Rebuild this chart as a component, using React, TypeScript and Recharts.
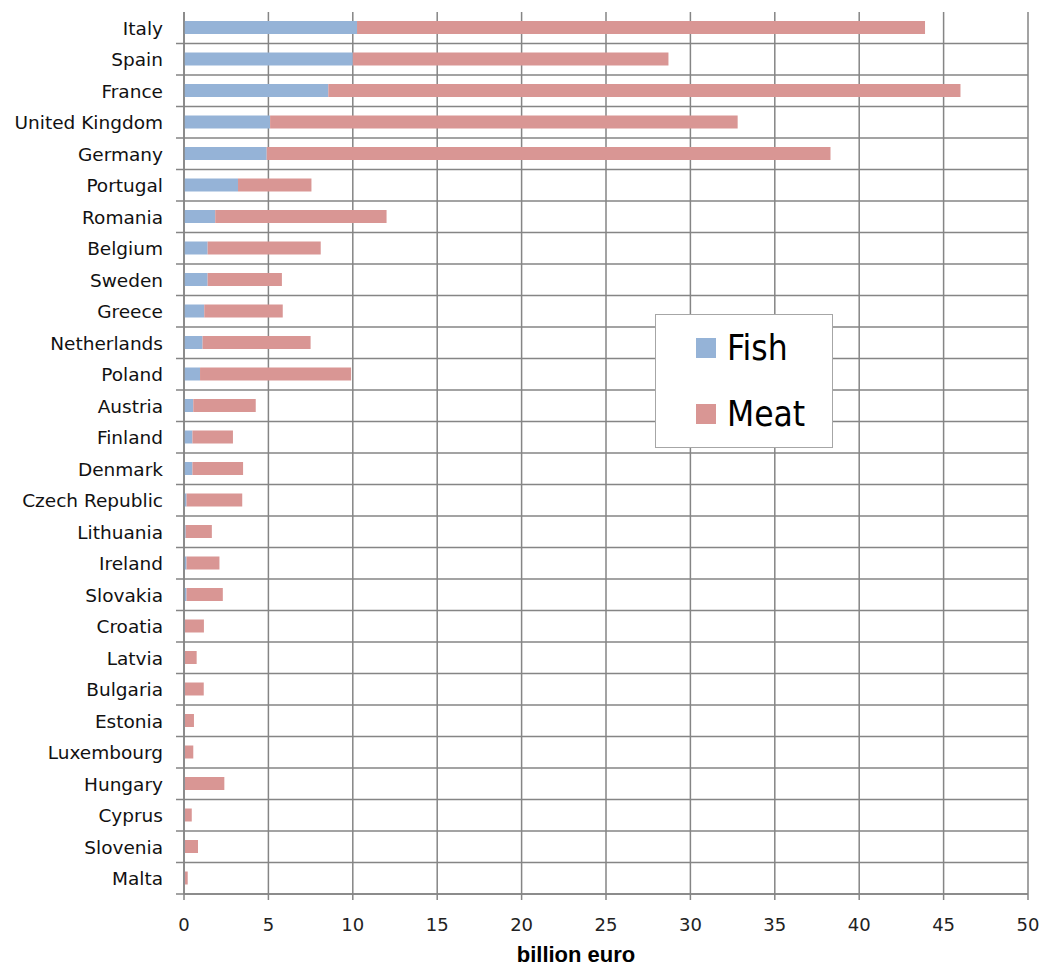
import { Bar, BarChart, CartesianGrid, Legend, XAxis, YAxis } from "recharts";

const countries = [
  "Italy", "Spain", "France", "United Kingdom", "Germany", "Portugal", "Romania",
  "Belgium", "Sweden", "Greece", "Netherlands", "Poland", "Austria", "Finland",
  "Denmark", "Czech Republic", "Lithuania", "Ireland", "Slovakia", "Croatia",
  "Latvia", "Bulgaria", "Estonia", "Luxembourg", "Hungary", "Cyprus", "Slovenia", "Malta",
];

const fish = [
  10.25, 10.0, 8.55, 5.1, 4.9, 3.2, 1.85, 1.4, 1.4, 1.2, 1.1, 0.95, 0.55, 0.5,
  0.5, 0.15, 0.1, 0.15, 0.15, 0.05, 0.05, 0.05, 0.05, 0.05, 0.05, 0.05, 0.05, 0.05,
];

const meat = [
  33.65, 18.7, 37.45, 27.7, 33.4, 4.35, 10.15, 6.7, 4.4, 4.65, 6.4, 8.95, 3.7, 2.4,
  3.0, 3.3, 1.55, 1.95, 2.15, 1.13, 0.7, 1.12, 0.54, 0.5, 2.34, 0.41, 0.78, 0.17,
];

const xTicks = [0, 5, 10, 15, 20, 25, 30, 35, 40, 45, 50];

const data = countries.map((country, i) => ({ country, fish: fish[i], meat: meat[i] }));

const FISH = "#95b3d7";
const MEAT = "#d99694";
const GRID = "#858585";
const FONT = "'DejaVu Sans', sans-serif";
const LEGEND_FONT = "'DejaVu Sans Condensed', 'DejaVu Sans', sans-serif";

// chart fills the whole window, placed absolutely so the body margin adds no scrollbar
const W = 1044;
const H = 967;
const MARGIN = { top: 12, right: 16, bottom: 3, left: 8 };
const X_AXIS_H = 70;
const ROW_H = (H - MARGIN.top - MARGIN.bottom - X_AXIS_H) / countries.length;

function CountryTick(props: any) {
  const { x, y, payload } = props;
  return (
    <g>
      <text x={x} y={y} dy={7} textAnchor="end" fontSize={18.5} fill="#111" fontFamily={FONT}>
        {payload.value}
      </text>
      <line x1={x + 13} x2={x + 21} y1={y + ROW_H / 2} y2={y + ROW_H / 2} stroke={GRID} strokeWidth={1.5} />
    </g>
  );
}

function LegendBox() {
  const item = (color: string, label: string) => (
    <div style={{ display: "flex", alignItems: "center", height: 66 }}>
      <span style={{ width: 20, height: 20, background: color, marginLeft: 40, marginRight: 11 }} />
      <span style={{ fontSize: 35, fontFamily: LEGEND_FONT, color: "#000" }}>{label}</span>
    </div>
  );
  return (
    <div
      style={{
        width: 176,
        height: 132,
        border: "1.5px solid #a6a6a6",
        background: "#fff",
        boxSizing: "content-box",
      }}
    >
      {item(FISH, "Fish")}
      {item(MEAT, "Meat")}
    </div>
  );
}

export default function App() {
  return (
    <div style={{ position: "absolute", left: 0, top: 0 }}>
      <BarChart width={W} height={H} data={data} layout="vertical" margin={MARGIN}>
        <CartesianGrid
          stroke={GRID}
          strokeWidth={1.5}
          horizontalCoordinatesGenerator={({ offset }: any) =>
            countries.map((_, i) => offset.top + ((i + 1) * offset.height) / countries.length)
          }
        />
        <XAxis
          type="number"
          domain={[0, 50]}
          ticks={xTicks}
          interval={0}
          height={X_AXIS_H}
          stroke={GRID}
          strokeWidth={1.5}
          tickSize={6}
          tickMargin={18}
          tick={{ fontSize: 18, fill: "#222", fontFamily: FONT }}
          label={{
            value: "billion euro",
            position: "insideBottom",
            offset: 2,
            dx: -30,
            fontSize: 22,
            fontWeight: "bold",
            fill: "#000",
            fontFamily: "'Liberation Sans', Arial, sans-serif",
          }}
        />
        <YAxis
          type="category"
          dataKey="country"
          width={176}
          interval={0}
          stroke={GRID}
          strokeWidth={1.5}
          tickLine={false}
          tickSize={8}
          tickMargin={13}
          tick={<CountryTick />}
        />
        <Legend
          layout="vertical"
          align="center"
          verticalAlign="middle"
          content={() => <LegendBox />}
          wrapperStyle={{ left: 655, top: 314, width: 179, height: 135 }}
        />
        <Bar dataKey="fish" name="Fish" stackId="a" fill={FISH} barSize={13} isAnimationActive={false} />
        <Bar dataKey="meat" name="Meat" stackId="a" fill={MEAT} barSize={13} isAnimationActive={false} />
      </BarChart>
    </div>
  );
}
